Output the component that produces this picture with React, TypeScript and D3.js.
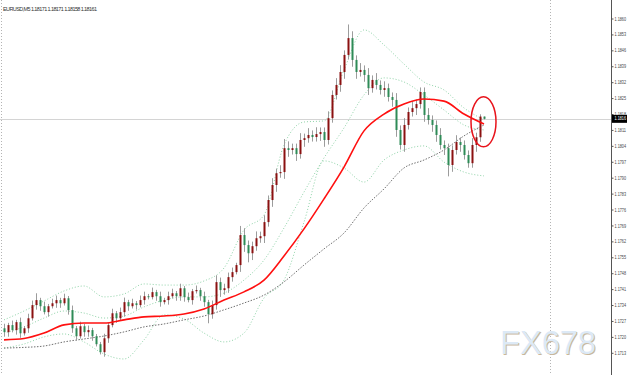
import React, { useRef, useEffect } from "react";
import * as d3 from "d3";

const chartTitle = "EURUSD,M5  1.18171 1.18171 1.18158 1.18161";
const lastPriceLabel = "1.1816";
const lastPrice = 1.18161;
const firstOpen = 1.1724;

// closes of the M5 candles, left to right
const closes = [
  1.17223, 1.17254, 1.17232, 1.17267, 1.17218, 1.1724, 1.17284, 1.17342, 1.17364, 1.17337,
  1.17311, 1.17337, 1.1735, 1.17364, 1.1735, 1.17372, 1.1732, 1.1724, 1.17205, 1.17249,
  1.17223, 1.17232, 1.17205, 1.1717, 1.17135, 1.17196, 1.17254, 1.17306, 1.17284, 1.17311,
  1.17355, 1.17337, 1.1735, 1.17342, 1.17364, 1.17381, 1.17377, 1.17399, 1.17381, 1.17355,
  1.17364, 1.17381, 1.17394, 1.17381, 1.17416, 1.17377, 1.17364, 1.17403, 1.17408, 1.17381,
  1.17355, 1.17302, 1.17342, 1.17443, 1.17408, 1.17416, 1.17465, 1.17487, 1.17518, 1.1765,
  1.17606, 1.1757, 1.17601, 1.17636, 1.17645, 1.17707, 1.17804, 1.1787, 1.17922, 1.17927,
  1.18032, 1.18024, 1.18032, 1.18006, 1.18068, 1.18076, 1.1809, 1.18081, 1.18094, 1.18103,
  1.18068, 1.18164, 1.18266, 1.1831, 1.18367, 1.18442, 1.18516, 1.1842, 1.18367, 1.18376,
  1.18354, 1.18296, 1.18332, 1.1831, 1.18288, 1.18296, 1.18257, 1.18244, 1.18112, 1.18046,
  1.18134, 1.18191, 1.18208, 1.18226, 1.18279, 1.18178, 1.18156, 1.18134, 1.1809, 1.18046,
  1.18032, 1.17958, 1.18024, 1.18059, 1.18046, 1.18002, 1.17966, 1.18046, 1.1808, 1.18171,
  1.18161,
];

// shadow lengths in pips above / below the body
const wickUp = [
  2, 1, 2, 1, 2, 1, 2, 2, 3, 1,
  2, 1, 2, 2, 1, 2, 1, 2, 1, 2,
  1, 2, 1, 1, 1, 2, 1, 2, 1, 2,
  2, 1, 2, 1, 2, 2, 1, 2, 1, 2,
  1, 2, 2, 1, 2, 1, 2, 1, 2, 1,
  2, 1, 2, 3, 2, 2, 2, 2, 1, 4,
  3, 2, 2, 3, 2, 3, 2, 3, 2, 3,
  4, 3, 2, 2, 3, 2, 3, 2, 3, 2,
  2, 3, 2, 3, 3, 2, 6, 3, 2, 3,
  2, 3, 2, 3, 2, 3, 2, 2, 3, 2,
  3, 2, 3, 2, 2, 2, 3, 2, 2, 3,
  2, 2, 2, 3, 2, 2, 2, 3, 2, 1,
  0,
];
const wickDown = [
  2, 2, 1, 2, 2, 1, 2, 1, 2, 2,
  1, 2, 1, 2, 2, 1, 2, 2, 2, 1,
  2, 2, 2, 1, 1, 2, 2, 1, 2, 1,
  2, 2, 1, 2, 1, 2, 1, 1, 2, 2,
  1, 2, 1, 2, 2, 2, 1, 2, 1, 2,
  2, 4, 2, 2, 3, 2, 2, 2, 1, 3,
  3, 4, 3, 2, 2, 3, 2, 3, 3, 2,
  3, 3, 2, 3, 2, 3, 2, 2, 2, 3,
  3, 2, 2, 2, 3, 3, 2, 3, 3, 2,
  3, 3, 2, 2, 2, 3, 2, 3, 3, 2,
  3, 2, 2, 3, 2, 3, 2, 3, 3, 2,
  3, 5, 3, 2, 3, 2, 2, 2, 3, 2,
  0.3,
];

// indicator readings every 5th candle
const indicatorIndex = [0, 5, 10, 15, 20, 25, 30, 35, 40, 45, 50, 55, 60, 65, 70, 75, 80, 85, 90, 95, 100, 105, 110, 115, 120];
const redMa = [
  1.17189, 1.17195, 1.17219, 1.17255, 1.17263, 1.17263, 1.17277, 1.1729, 1.17294, 1.17303,
  1.17325, 1.17364, 1.174, 1.17452, 1.17558, 1.17677, 1.17809, 1.17949, 1.18108, 1.18182,
  1.18226, 1.18248, 1.18239, 1.18182, 1.18138,
];
const greyMa = [
  1.17153, 1.17156, 1.17162, 1.1718, 1.17193, 1.17206, 1.17224, 1.17246, 1.17259, 1.17277,
  1.17294, 1.17321, 1.17351, 1.17386, 1.17444, 1.17518, 1.17589, 1.17659, 1.17769, 1.17853,
  1.17945, 1.1798, 1.18024, 1.18086, 1.18134,
];
const bandUpper = [
  1.17277, 1.17316, 1.1736, 1.17404, 1.17426, 1.17378, 1.17391, 1.17435, 1.1743, 1.1743,
  1.17448, 1.17505, 1.17672, 1.17738, 1.18046, 1.18147, 1.18152, 1.18376, 1.18552, 1.18486,
  1.18402, 1.18323, 1.18288, 1.18209, 1.18156,
];
const bandMiddle = [
  1.17219, 1.17246, 1.17285, 1.17316, 1.17307, 1.17285, 1.17294, 1.17334, 1.17364, 1.17378,
  1.17378, 1.17395, 1.17452, 1.1754, 1.17681, 1.17839, 1.17989, 1.18121, 1.18266, 1.18341,
  1.18323, 1.18266, 1.182, 1.18134, 1.18112,
];
const bandLower = [
  1.17153, 1.17171, 1.17202, 1.17215, 1.1718, 1.17127, 1.17105, 1.17189, 1.17299, 1.17281,
  1.17219, 1.1718, 1.17219, 1.17373, 1.17452, 1.17707, 1.17976, 1.17945, 1.17883, 1.1798,
  1.18024, 1.18042, 1.17971, 1.17927, 1.1791,
];

const priceTicks = [
  "1.1860", "1.1853", "1.1846", "1.1839", "1.1832", "1.1825", "1.1818", "1.1811",
  "1.1804", "1.1797", "1.1790", "1.1783", "1.1776", "1.1769", "1.1762", "1.1755",
  "1.1748", "1.1741", "1.1734", "1.1727", "1.1720", "1.1713",
];

const W = 627;
const H = 375;
const AXIS_X = 611;
const FONT = "Liberation Sans, Arial, sans-serif";

function App() {
  const svgRef = useRef(null);

  useEffect(() => {
    const svg = d3.select(svgRef.current);
    svg.selectAll("*").remove();

    const x = d3.scaleLinear().domain([0, closes.length - 1]).range([4, 484]);
    const y = d3.scaleLinear().domain([1.1713, 1.186]).range([353.3, 19]);
    const pip = 0.0001;

    const candles = closes.map((c, i) => {
      const o = i === 0 ? firstOpen : closes[i - 1];
      return {
        i,
        o,
        c,
        h: Math.max(o, c) + wickUp[i] * pip,
        l: Math.min(o, c) - wickDown[i] * pip,
      };
    });

    // period separators
    svg
      .selectAll(".sep")
      .data([1, 550])
      .join("line")
      .attr("class", "sep")
      .attr("x1", (d) => d + 0.5)
      .attr("x2", (d) => d + 0.5)
      .attr("y1", 0)
      .attr("y2", H)
      .attr("stroke", "#b4b4b4")
      .attr("stroke-dasharray", "1,2");

    // last price line
    svg
      .append("line")
      .attr("x1", 0)
      .attr("x2", AXIS_X)
      .attr("y1", Math.round(y(lastPrice)) + 0.5)
      .attr("y2", Math.round(y(lastPrice)) + 0.5)
      .attr("stroke", "#d4d4d4");

    const line = d3
      .line()
      .x((d) => x(d[0]))
      .y((d) => y(d[1]))
      .curve(d3.curveMonotoneX);
    const pts = (arr) => indicatorIndex.map((k, j) => [k, arr[j]]);

    [bandUpper, bandMiddle, bandLower].forEach((band) => {
      svg
        .append("path")
        .attr("d", line(pts(band)))
        .attr("fill", "none")
        .attr("stroke", "#8fd3a8")
        .attr("stroke-width", 1)
        .attr("stroke-dasharray", "1,2");
    });

    svg
      .append("path")
      .attr("d", line(pts(greyMa)))
      .attr("fill", "none")
      .attr("stroke", "#6f6f6f")
      .attr("stroke-width", 1)
      .attr("stroke-dasharray", "1.5,1.5");

    // wicks
    svg
      .selectAll(".wick")
      .data(candles)
      .join("line")
      .attr("class", "wick")
      .attr("x1", (d) => Math.round(x(d.i)) + 0.5)
      .attr("x2", (d) => Math.round(x(d.i)) + 0.5)
      .attr("y1", (d) => y(d.h))
      .attr("y2", (d) => y(d.l))
      .attr("stroke", "#9c9c9c")
      .attr("stroke-width", 1);

    // bodies
    svg
      .selectAll(".body")
      .data(candles)
      .join("rect")
      .attr("class", "body")
      .attr("x", (d) => Math.round(x(d.i)) - 0.5)
      .attr("width", 2)
      .attr("y", (d) => y(Math.max(d.o, d.c)))
      .attr("height", (d) => Math.max(1, Math.abs(y(d.o) - y(d.c))))
      .attr("fill", (d) => (d.c >= d.o ? "#8b1111" : "#2e8b57"));

    svg
      .append("path")
      .attr("d", line(pts(redMa)))
      .attr("fill", "none")
      .attr("stroke", "#ff1010")
      .attr("stroke-width", 1.6);

    // highlight ellipse around the last candles
    svg
      .append("ellipse")
      .attr("cx", x(closes.length - 1) - 0.5)
      .attr("cy", y(lastPrice) + 3)
      .attr("rx", 12.5)
      .attr("ry", 25)
      .attr("fill", "none")
      .attr("stroke", "#e8141c")
      .attr("stroke-width", 1.5);

    // watermark
    const wm = svg.append("g").attr("font-family", FONT).attr("font-size", 33);
    wm.append("text")
      .attr("x", 501)
      .attr("y", 355)
      .attr("fill", "#c9b79c")
      .attr("textLength", 96)
      .attr("lengthAdjust", "spacingAndGlyphs")
      .text("FX678");
    wm.append("text")
      .attr("x", 500)
      .attr("y", 354)
      .attr("fill", "#dce9f6")
      .attr("textLength", 96)
      .attr("lengthAdjust", "spacingAndGlyphs")
      .text("FX678");

    // price axis
    svg
      .append("line")
      .attr("x1", AXIS_X + 0.5)
      .attr("x2", AXIS_X + 0.5)
      .attr("y1", 0)
      .attr("y2", H)
      .attr("stroke", "#555");

    const tickG = svg
      .selectAll(".tick")
      .data(priceTicks)
      .join("g")
      .attr("class", "tick")
      .attr("transform", (d) => `translate(${AXIS_X},${y(+d)})`);
    tickG.append("line").attr("x1", 0).attr("x2", 2.5).attr("stroke", "#555");
    tickG
      .append("text")
      .attr("x", 3.5)
      .attr("dy", "0.35em")
      .attr("font-size", 4.5)
      .attr("font-family", FONT)
      .attr("fill", "#444")
      .attr("textLength", 11.5)
      .attr("lengthAdjust", "spacingAndGlyphs")
      .text((d) => d);

    const ly = y(lastPrice);
    svg
      .append("rect")
      .attr("x", AXIS_X + 1)
      .attr("y", ly - 4)
      .attr("width", W - AXIS_X - 1)
      .attr("height", 8)
      .attr("fill", "#000");
    svg
      .append("text")
      .attr("x", AXIS_X + 3.5)
      .attr("y", ly)
      .attr("dy", "0.35em")
      .attr("font-size", 4.5)
      .attr("font-family", FONT)
      .attr("fill", "#fff")
      .attr("textLength", 11.5)
      .attr("lengthAdjust", "spacingAndGlyphs")
      .text(lastPriceLabel);

    svg
      .append("text")
      .attr("x", 3)
      .attr("y", 11)
      .attr("font-size", 5.5)
      .attr("font-family", FONT)
      .attr("fill", "#333")
      .attr("textLength", 94)
      .text(chartTitle);
  }, []);

  return (
    <svg
      ref={svgRef}
      width={W}
      height={H}
      style={{ position: "absolute", left: 0, top: 0, background: "#fff" }}
    />
  );
}

export default App;
